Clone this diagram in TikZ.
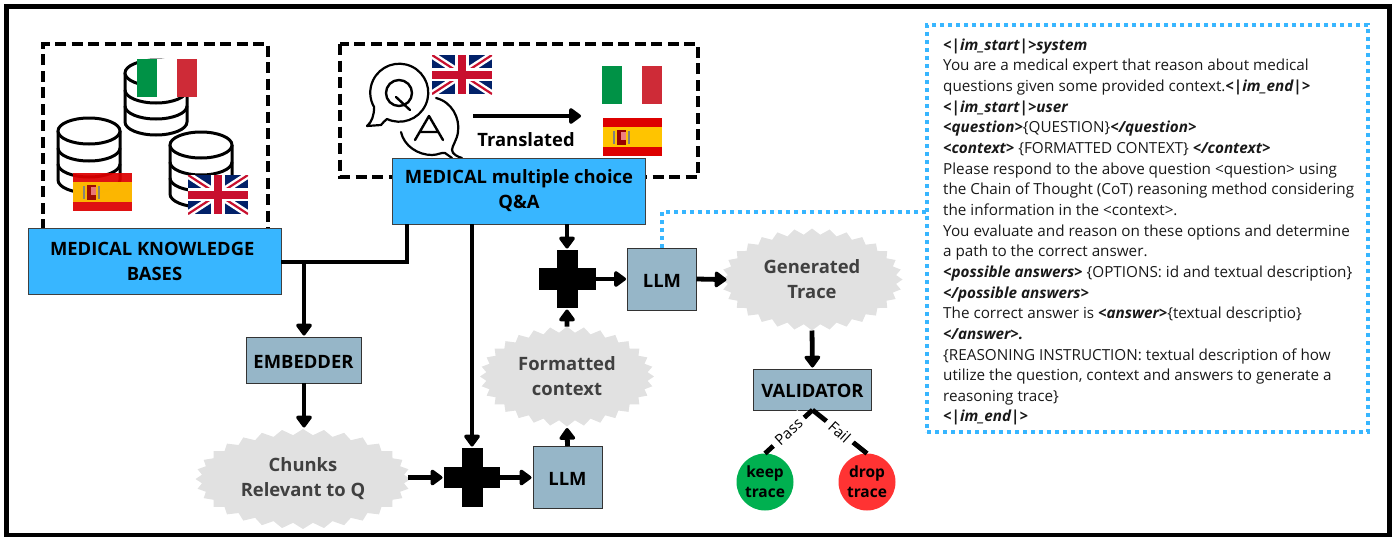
\documentclass[tikz,border=0pt]{standalone}
\usepackage{fontspec}
\setmainfont{Open Sans}
\usetikzlibrary{shapes.symbols,arrows.meta}
\definecolor{skyblue}{HTML}{38B6FF}
\definecolor{steelbox}{HTML}{96B6C8}
\definecolor{burstgray}{HTML}{E1E1E1}
\definecolor{itgreen}{HTML}{009246}
\definecolor{itred}{HTML}{CE2B37}
\definecolor{esred}{HTML}{DD0000}
\definecolor{esyellow}{HTML}{FFC400}
\definecolor{ukblue}{HTML}{012169}
\definecolor{ukred}{HTML}{C8102E}
\definecolor{keepgreen}{HTML}{00B050}
\definecolor{dropred}{HTML}{FF3333}
\tikzset{
    pics/flagit/.style={code={
        \fill[itgreen] (0,0) rectangle (20,38);
        \fill[white] (20,0) rectangle (40,38);
        \fill[itred] (40,0) rectangle (60,38);
    }},
    pics/flages/.style={code={
        \fill[esred] (0,0) rectangle (59,38);
        \fill[esyellow] (0,9) rectangle (59,29);
        \fill[red!60!black] (14,12) rectangle (23,27);
        \fill[esred!50!white] (18,14) rectangle (23,22);
        \fill[gray] (10,13) rectangle (12,26);
        \fill[gray] (25,13) rectangle (27,26);
    }},
    pics/flaguk/.style={code={
        \begin{scope}
        \clip (0,0) rectangle (60,39);
        \fill[ukblue] (0,0) rectangle (60,39);
        \draw[white,line width=7pt] (0,0) -- (60,39) (0,39) -- (60,0);
        \draw[ukred,line width=2.2pt] (0,0) -- (60,39) (0,39) -- (60,0);
        \fill[white] (23,0) rectangle (37,39);
        \fill[white] (0,13) rectangle (60,26);
        \fill[ukred] (26,0) rectangle (34,39);
        \fill[ukred] (0,15.5) rectangle (60,23.5);
        \end{scope}
    }},
    pics/dbicon/.style={code={
        \draw[line width=3pt,fill=white] (-31,0) -- (-31,49) arc[start angle=180,end angle=0,x radius=31,y radius=13] -- (31,0);
        \draw[line width=3pt] (-31,17) arc[start angle=180,end angle=0,x radius=31,y radius=13];
        \draw[line width=3pt] (-31,33) arc[start angle=180,end angle=0,x radius=31,y radius=13];
        \draw[line width=3pt,fill=white] (0,0) ellipse[x radius=31,y radius=13];
    }}
}
\begin{document}
\begin{tikzpicture}[x=1pt,y=-1pt,
    boldlabel/.style={align=center,font=\fontsize{18.4}{25}\selectfont\bfseries,inner sep=0pt,outer sep=0pt},
    bigbox/.style={boldlabel,rectangle,draw=black!75,fill=skyblue,line width=.8pt,minimum width=253pt,minimum height=66pt,
        execute at begin node={\rule{0pt}{17pt}}},
    stepbox/.style={boldlabel,rectangle,draw=black!80,fill=steelbox,line width=.8pt,execute at begin node={\rule{0pt}{17pt}}},
    burst/.style={boldlabel,starburst,starburst points=32,starburst point height=6pt,random starburst=0,fill=burstgray,
        text=black!75},
    plusbar/.style={rectangle,fill=black,inner sep=0pt,outer sep=0pt},
    dashbox/.style={draw,line width=4.2pt,dash pattern=on 11pt off 5.5pt},
    dotline/.style={draw=skyblue,line width=4pt,dash pattern=on 4pt off 4pt},
    flow/.style={line width=4.8pt,-{Triangle[length=13pt,width=18pt,round]},shorten >=1.5pt},
    plainline/.style={line width=4.8pt},
    trace/.style={circle,minimum size=57pt,inner sep=0pt,outer sep=0pt,align=center,
        font=\fontsize{15.5}{20}\selectfont\bfseries,execute at begin node={\rule{0pt}{14pt}}},
    branchlabel/.style={fill=white,inner sep=5pt,font=\fontsize{15}{15}\selectfont}]
    \useasboundingbox (0,0) rectangle (1395,536);
    \draw[line width=5pt] (6,6) rectangle (1389.5,535);
    % knowledge bases
    \draw[dashbox] (43,230) -- (43,44) -- (268,44) -- (268,230);
    \pic at (156,73) {dbicon};
    \pic at (89,131) {dbicon};
    \pic at (201,145) {dbicon};
    \pic at (137,59) {flagit};
    \pic[opacity=.93] at (73,173) {flages};
    \pic at (188,175) {flaguk};
    % translated questions
    \draw[dashbox] (340,44) rectangle (698,177);
    \draw[line width=2.2pt,line cap=round,line join=round] (387,119)
        arc[start angle=115,end angle=-210,radius=29]
        .. controls (374,115) and (372,122) .. (367,126) -- (381,125)
        .. controls (383,123) and (385,120) .. (387,119);
    \draw[line width=2.4pt,line cap=round] (399,93) circle[radius=13] (396,97) -- (410,110);
    \draw[line width=2.2pt,line cap=round] (436,98)
        .. controls (452,102) and (460,118) .. (458,132)
        .. controls (457,140) and (452,146) .. (452,150)
        .. controls (452,154) and (458,157) .. (462,158);
    \draw[line width=2.2pt,line cap=round] (401,132)
        .. controls (404,146) and (418,155) .. (432,155)
        .. controls (438,155) and (442,152) .. (445,153) -- (452,158);
    \draw[line width=2.4pt,line cap=round,line join=round] (415,140) -- (429,116) -- (443,140) (420,132) -- (438,132);
    \pic at (432,55) {flaguk};
    \pic at (602,66) {flagit};
    \pic at (603,118) {flages};
    \coordinate (transa) at (473,116);
    \coordinate (transb) at (581,116);
    \draw[flow,shorten >=0pt] (transa) -- (transb);
    \node[font=\fontsize{18.4}{18}\selectfont\bfseries] (translated) at (526,140) {Translated};
    % main boxes
    \node[bigbox] (kb) at (154.5,261) {MEDICAL KNOWLEDGE\hspace*{4.5pt}\\BASES};
    \node[bigbox] (qa) at (519,191) {MEDICAL multiple choice\\Q\&A};
    \node[stepbox,minimum width=115pt,minimum height=46pt] (embedder) at (303.5,360) {EMBEDDER};
    \node[burst,minimum width=215pt,minimum height=100pt] (chunks) at (303,479) {Chunks\\Relevant to Q};
    \node[plusbar,minimum width=56pt,minimum height=21pt] (plusa) at (472,477.5) {};
    \node[plusbar,minimum width=21pt,minimum height=59pt] (plusav) at (472,477.5) {};
    \node[stepbox,minimum width=69pt,minimum height=62pt] (llma) at (567.5,477) {LLM};
    \node[burst,minimum width=174pt,minimum height=100pt] (formatted) at (567,376.5) {Formatted\\context};
    \node[plusbar,minimum width=57pt,minimum height=22pt] (plusb) at (567,279) {};
    \node[plusbar,minimum width=21pt,minimum height=58pt] (plusbv) at (567,279) {};
    \node[stepbox,minimum width=69pt,minimum height=62pt] (llmb) at (662,279) {LLM};
    \node[burst,minimum width=181pt,minimum height=102pt] (gentrace) at (812,279.5) {Generated\\Trace};
    \node[stepbox,minimum width=118pt,minimum height=41pt] (validator) at (812.5,389.5) {VALIDATOR};
    \node[trace,fill=keepgreen] (keep) at (765,482) {keep\\trace};
    \node[trace,fill=dropred] (drop) at (867,482) {drop\\trace};
    % prompt
    \node[dotline,rectangle,anchor=north west,minimum width=441pt,minimum height=407pt,outer sep=0pt] (prompt) at (927,25) {};
    \node[anchor=north west,align=left,inner sep=0pt,text=black!90,
        font=\fontsize{15.25}{20.65}\selectfont] (prompttext) at (943,38.5) {%
        \textbf{\textit{<|im\_start|>system}}\\
        You are a medical expert that reason about medical\\
        questions given some provided context.\textbf{\textit{<|im\_end|>}}\\
        \textbf{\textit{<|im\_start|>user}}\\
        \textbf{\textit{<question>}}\{QUESTION\}\textbf{\textit{</question>}}\\
        \textbf{\textit{<context>}} \{FORMATTED CONTEXT\} \textbf{\textit{</context>}}\\
        Please respond to the above question <question> using\\
        the Chain of Thought (CoT) reasoning method considering\\
        the information in the <context>.\\
        You evaluate and reason on these options and determine\\
        a path to the correct answer.\\
        \textbf{\textit{<possible answers>}} \{OPTIONS: id and textual description\}\\
        \textbf{\textit{</possible answers>}}\\
        The correct answer is \textbf{\textit{<answer>}}\{textual descriptio\}\\
        \textbf{\textit{</answer>.}}\\
        \{REASONING INSTRUCTION: textual description of how\\
        utilize the question, context and answers to generate a\\
        reasoning trace\}\\
        \textbf{\textit{<|im\_end|>}}};
    \coordinate (promptin) at (prompt.west |- 0,212);
    \draw[dotline] (llmb.north) -- (662,212) -- (promptin);
    % connectors
    \coordinate (kbjoin) at (407,262);
    \coordinate (kbdrop) at (304,262);
    \draw[plainline,line join=miter] (kb.east |- kbjoin) -- (kbjoin) -- (kbjoin |- qa.south);
    \draw[flow] (kbdrop) -- (kbdrop |- embedder.north);
    \draw[flow] (embedder.south -| kbdrop) -- (kbdrop |- chunks.north);
    \draw[flow] (qa.south -| plusav) -- (plusav.north);
    \draw[flow] (qa.south -| plusbv) -- (plusbv.north);
    \draw[flow,shorten <=-3pt] (chunks.east |- plusa) -- (plusa.west);
    \draw[flow] (plusa.east) -- (llma.west |- plusa);
    \draw[flow] (llma.north) -- (formatted.south);
    \draw[flow] (formatted.north) -- (plusbv.south);
    \draw[flow] (plusb.east) -- (llmb.west);
    \draw[flow,shorten >=-5pt] (llmb.east) -- (gentrace.west);
    \draw[flow] (gentrace.south) -- (validator.north);
    \draw[plainline] (validator.south) -- node[branchlabel,rotate=42] (pass) {Pass} (keep.north);
    \draw[plainline] (validator.south) -- node[branchlabel,rotate=-42] (fail) {Fail} (drop.north);
\end{tikzpicture}
\end{document}
